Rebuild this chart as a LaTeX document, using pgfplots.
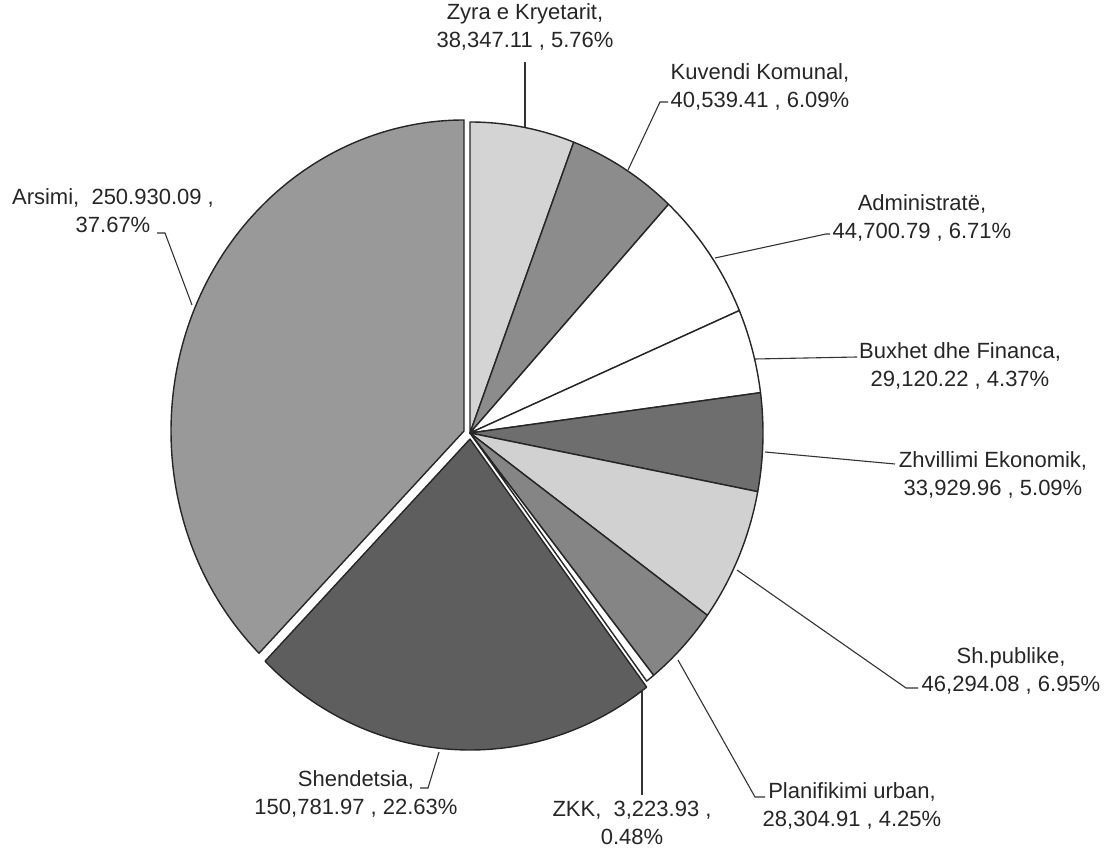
\documentclass[border=0pt]{standalone}
\usepackage{pgfplots}
\pgfplotsset{compat=1.18}
\usepackage{pgfplotstable}
\usepackage{fontspec}
\setmainfont{Liberation Sans}

% slices, clockwise from the top: centre (cx,cy), start/end angle, grey level, value, percent
\pgfplotstableread{
cx  cy  a0        a1        g   value      pct
470 416 90        69.264    17  38347.11   5.76
470 416 69.264    47.34     45  40539.41   6.09
470 416 47.34     23.184    0   44700.79   6.71
470 416 23.184    7.452     0   29120.22   4.37
470 416 7.452     -10.872   57  33929.96   5.09
470 416 -10.872   -35.892   18  46294.08   6.95
470 416 -35.892   -51.192   48  28304.91   4.25
470 416 -51.192   -52.92    0   3223.93    0.48
470 410 -52.92    -134.388  63  150781.97  22.63
464 418 -134.388  -270      40  250930.09  37.67
}\slices

\pgfdeclareplotmark{blank}{}

\begin{document}
\begin{tikzpicture}[
    lab/.style={font=\fontsize{22}{28}\selectfont, align=center, text=black!85, inner sep=0pt},
  ]
  \begin{axis}[
      width=1107pt, height=849pt, scale only axis,
      xmin=0, xmax=1107, ymin=0, ymax=849,
      hide axis, clip=false,
    ]
    \path (axis cs:0,0) rectangle (axis cs:1107,849);

    \addplot[
      scatter, only marks, mark=blank,
      point meta=\thisrow{g},
      visualization depends on={\thisrow{a0} \as \aA},
      visualization depends on={\thisrow{a1} \as \aB},
      visualization depends on={\thisrow{g} \as \gval},
      scatter/@pre marker code/.code={%
        \pgfmathsetmacro\sx{293*cos(\aA)}%
        \pgfmathsetmacro\sy{311*sin(\aA)}%
        \filldraw[fill=black!\gval, draw=black!85, line width=1.4pt, line join=round]
          (0pt,0pt) -- (\sx pt,\sy pt)
          arc[start angle=\aA, end angle=\aB, x radius=293pt, y radius=311pt] -- cycle;
      },
      scatter/@post marker code/.code={},
    ] table[x=cx, y=cy] {\slices};

    % leader lines
    \addplot[black!80, line width=1.1pt] coordinates {(525,787) (525,722)};
    \addplot[black!80, line width=1.1pt] coordinates {(668,747) (660,747) (628,679)};
    \addplot[black!80, line width=1.1pt] coordinates {(830,615) (826,615) (715,591)};
    \addplot[black!80, line width=1.1pt] coordinates {(857,492) (755,490)};
    \addplot[black!80, line width=1.1pt] coordinates {(765,397) (895,385)};
    \addplot[black!80, line width=1.1pt] coordinates {(737,279) (906,161) (918,161)};
    \addplot[black!80, line width=1.1pt] coordinates {(678,189) (755,52) (765,52)};
    \addplot[black!80, line width=1.1pt] coordinates {(642,166) (642,54)};
    \addplot[black!80, line width=1.1pt] coordinates {(420,61) (428,61) (439,97)};
    \addplot[black!80, line width=1.1pt] coordinates {(157,616) (165,616) (192,544)};

    % labels
    \node[lab] at (axis cs:525,822) {Zyra e Kryetarit,\\38,347.11 , 5.76\%};
    \node[lab] at (axis cs:760,762) {Kuvendi Komunal,\\40,539.41 , 6.09\%};
    \node[lab] at (axis cs:922,631) {Administratë,\\44,700.79 , 6.71\%};
    \node[lab] at (axis cs:960,483) {Buxhet dhe Financa,\\29,120.22 , 4.37\%};
    \node[lab] at (axis cs:993,374) {Zhvillimi Ekonomik,\\33,929.96 , 5.09\%};
    \node[lab] at (axis cs:1011,178) {Sh.publike,\\46,294.08 , 6.95\%};
    \node[lab] at (axis cs:852,43) {Planifikimi urban,\\28,304.91 , 4.25\%};
    \node[lab] at (axis cs:632,26) {ZKK,\ \ 3,223.93 ,\\0.48\%};
    \node[lab] at (axis cs:356,55) {Shendetsia,\\150,781.97 , 22.63\%};
    \node[lab] at (axis cs:113,638) {Arsimi,\ \ 250.930.09 ,\\37.67\%};
  \end{axis}
\end{tikzpicture}
\end{document}
